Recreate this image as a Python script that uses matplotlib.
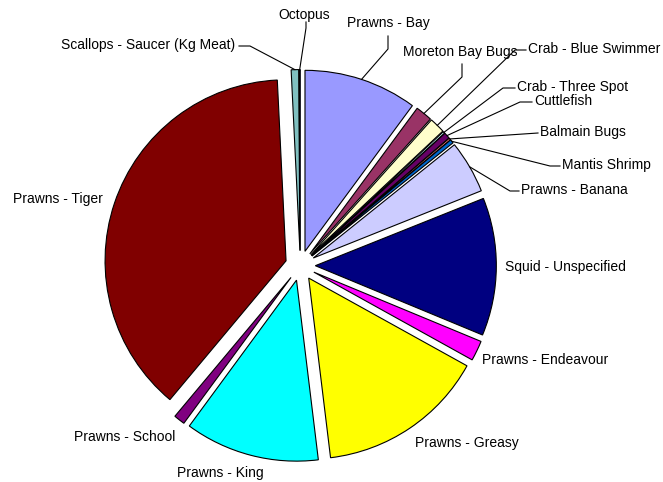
import numpy as np
import matplotlib
matplotlib.use('Agg')
import matplotlib.pyplot as plt

plt.rcParams['font.family'] = ['Liberation Sans', 'DejaVu Sans']

# Slices, clockwise from 12 o'clock (share of catch, %)
categories = ['Prawns - Bay', 'Moreton Bay Bugs', 'Crab - Blue Swimmer', 'Crab - Three Spot',
              'Cuttlefish', 'Balmain Bugs', 'Mantis Shrimp', 'Prawns - Banana',
              'Squid - Unspecified', 'Prawns - Endeavour', 'Prawns - Greasy', 'Prawns - King',
              'Prawns - School', 'Prawns - Tiger', 'Scallops - Saucer (Kg Meat)', 'Octopus']
values = [10.1, 1.5, 1.4, 0.17, 0.55, 0.17, 0.33, 4.7,
          12.3, 1.8, 15.0, 12.0, 1.0, 38.1, 0.67, 0.1]
colors = ['#9999FF', '#993366', '#FFFFCC', '#CCFFFF', '#660066', '#FF8080', '#0066CC', '#CCCCFF',
          '#000080', '#FF00FF', '#FFFF00', '#00FFFF', '#800080', '#800000', '#80C0C0', '#0000FF']

# figure geometry in pixels
W, H = 663, 482
cx, cy = 300.3, 265.6   # pie centre (pixels, y from top)
R = 181.0               # radius in pixels
expl = 0.083

# label layout: text position (px), alignment, leader path points (px) after the anchor
layout = {
    'Prawns - Bay': ((388, 23), 'center', [(388, 49), (388, 36)]),
    'Moreton Bay Bugs': ((460, 52), 'center', [(462, 77), (462, 64)]),
    'Crab - Blue Swimmer': ((528, 49), 'left', [(515, 50), (526, 50)]),
    'Crab - Three Spot': ((517, 87), 'left', [(503, 88), (515, 88)]),
    'Cuttlefish': ((534, 101), 'left', [(520, 102), (532, 102)]),
    'Balmain Bugs': ((540, 132), 'left', [(538, 133)]),
    'Mantis Shrimp': ((562, 165), 'left', [(550, 166), (560, 166)]),
    'Prawns - Banana': ((521, 190), 'left', [(510, 191), (519, 191)]),
    'Squid - Unspecified': ((505, 267), 'left', None),
    'Prawns - Endeavour': ((482, 360), 'left', None),
    'Prawns - Greasy': ((415, 443), 'left', None),
    'Prawns - King': ((220, 473), 'center', None),
    'Prawns - School': ((175, 437), 'right', None),
    'Prawns - Tiger': ((103, 199), 'right', None),
    'Scallops - Saucer (Kg Meat)': ((235, 45), 'right', [(250, 46), (239, 46)]),
    'Octopus': ((304, 15), 'center', [(306, 28), (306, 22)]),
}


def to_data(p):
    return ((p[0] - cx) / R, (cy - p[1]) / R)


fig = plt.figure(figsize=(W / 100, H / 100), dpi=100)
ax = fig.add_axes([0, 0, 1, 1])
wedges, _ = ax.pie(values, colors=colors, startangle=90, counterclock=False,
                   explode=[expl] * len(values), radius=1.0,
                   wedgeprops=dict(edgecolor='black', linewidth=0.8))
ax.set_xlim(-cx / R, (W - cx) / R)
ax.set_ylim(-(H - cy) / R, cy / R)
ax.set_aspect('auto')
ax.axis('off')

for w, name in zip(wedges, categories):
    mid = np.deg2rad((w.theta1 + w.theta2) / 2)
    (tx, ty), ha, path = layout[name]
    x, y = to_data((tx, ty))
    ax.text(x, y, name, ha=ha, va='center', fontsize=10, color='black')
    if path:
        anchor = ((1 + expl) * np.cos(mid), (1 + expl) * np.sin(mid))
        pts = [anchor] + [to_data(p) for p in path]
        xs, ys = zip(*pts)
        ax.plot(xs, ys, color='black', linewidth=0.8)

fig.savefig('out.png', dpi=100)
